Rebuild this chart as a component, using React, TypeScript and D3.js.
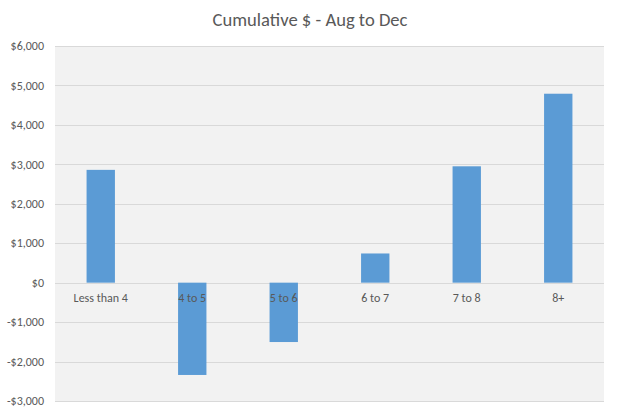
import React from "react";
import * as d3 from "d3";

const categories = ["Less than 4", "4 to 5", "5 to 6", "6 to 7", "7 to 8", "8+"];
const values = [2860, -2340, -1505, 740, 2950, 4790];
const yTicks = [-3000, -2000, -1000, 0, 1000, 2000, 3000, 4000, 5000, 6000];
const title = "Cumulative $ - Aug to Dec";

const W = 618;
const H = 413;
const plot = { left: 55, right: 604, top: 46, bottom: 401 };
const FONT = "Carlito, Calibri, Roboto, 'Noto Sans', sans-serif";

export default function App() {
  const x = d3
    .scaleBand<string>()
    .domain(categories)
    .range([plot.left, plot.right])
    .paddingInner(0.69)
    .paddingOuter(0.345);
  const y = d3.scaleLinear().domain([-3000, 6000]).range([plot.bottom, plot.top]);
  const fmt = (v: number) => (v < 0 ? "-$" : "$") + d3.format(",")(Math.abs(v));
  const bw = x.bandwidth();

  return (
    <svg
      width={W}
      height={H}
      style={{ position: "absolute", left: 0, top: 0, background: "#ffffff" }}
    >
      <rect x={0} y={0} width={W} height={H} fill="#ffffff" />
      <rect
        x={plot.left}
        y={plot.top}
        width={plot.right - plot.left}
        height={plot.bottom - plot.top}
        fill="#f2f2f2"
      />
      <text
        x={310}
        y={26}
        textAnchor="middle"
        fontFamily={FONT}
        fontSize={18.6}
        fill="#595959"
      >
        {title}
      </text>
      {yTicks.map((t) => (
        <g key={t}>
          <line
            x1={plot.left}
            x2={plot.right}
            y1={Math.round(y(t)) + 0.5}
            y2={Math.round(y(t)) + 0.5}
            stroke="#d9d9d9"
            strokeWidth={1}
          />
          <text
            x={44}
            y={y(t)}
            dy="0.35em"
            textAnchor="end"
            fontFamily={FONT}
            fontSize={12}
            fill="#595959"
          >
            {fmt(t)}
          </text>
        </g>
      ))}
      {categories.map((c, i) => {
        const v = values[i];
        return (
          <rect
            key={c}
            x={x(c)}
            y={Math.min(y(v), y(0))}
            width={bw}
            height={Math.abs(y(v) - y(0))}
            fill="#5b9bd5"
          />
        );
      })}
      {categories.map((c) => (
        <text
          key={c}
          x={(x(c) as number) + bw / 2}
          y={y(0) + 15}
          dy="0.35em"
          textAnchor="middle"
          fontFamily={FONT}
          fontSize={12}
          fill="#595959"
        >
          {c}
        </text>
      ))}
    </svg>
  );
}
